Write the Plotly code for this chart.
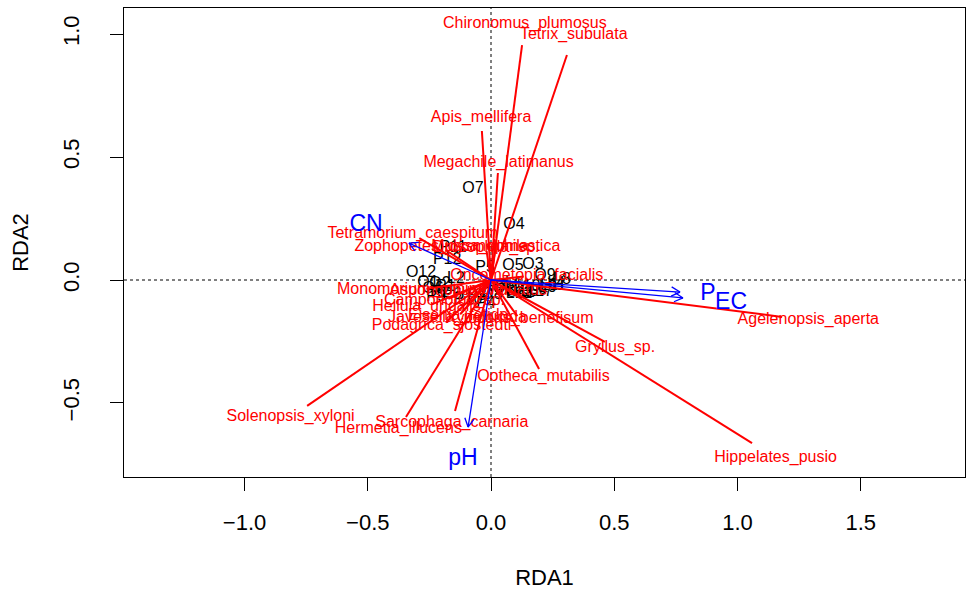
import numpy as np
import plotly.graph_objects as go

# Site scores (RDA1, RDA2)
site_names = ["O1", "O2", "O3", "O4", "O5", "O6", "O7", "O8", "O9", "O10", "O11", "O12",
              "P1", "P2", "P3", "P4", "P5", "P6", "P7", "P8", "P9", "P10", "P11", "P12",
              "L1", "L2", "L3", "L4", "L5", "L6", "L7", "L8", "L9", "L10", "L11", "L12"]
site_x = [-0.256, -0.207, 0.170, 0.093, 0.089, -0.235, -0.073, 0.004, 0.219, 0.069, 0.118, -0.284,
          -0.183, -0.207, -0.057, -0.020, -0.024, -0.158, 0.028, 0.057, -0.223, -0.093, -0.154, -0.178,
          0.093, -0.142, 0.126, 0.264, 0.158, 0.191, 0.215, 0.288, 0.231, 0.146, 0.252, 0.114]
site_y = [-0.012, -0.016, 0.061, 0.224, 0.057, -0.037, 0.370, -0.061, 0.016, -0.037, -0.053, 0.028,
          -0.028, -0.053, -0.065, -0.098, 0.049, -0.061, -0.028, -0.045, -0.069, -0.081, 0.130, 0.081,
          -0.016, 0.004, -0.041, -0.016, -0.049, -0.041, -0.049, 0.000, -0.033, -0.028, -0.024, -0.057]

# Species scores (arrow tips)
species_names = ["Chironomus_plumosus", "Tetrix_subulata", "Apis_mellifera", "Megachile_latimanus",
                 "Tetramorium_caespitum", "Zophopetes_dysmephila", "Drosophila_sp.", "Musca_domestica",
                 "Monomorium_minimum", "Aspongopus_viduatus", "Camponotus_sp.", "Hellula_undalis",
                 "Javesella_pellucida", "Eisenia_fetida", "Xylocoris_benefisum", "Podagrica_sjostedti",
                 "Oncometopia_facialis", "Agelenopsis_aperta", "Gryllus_sp.", "Hippelates_pusio",
                 "Ootheca_mutabilis", "Sarcophaga_carnaria", "Hermetia_illucens", "Solenopsis_xyloni"]
species_x = [0.126, 0.308, -0.037, 0.028,
             -0.291, -0.184, -0.018, 0.018,
             -0.262, -0.085, -0.173, -0.240,
             -0.125, -0.122, 0.107, -0.184,
             0.133, 1.181, 0.462, 1.059,
             0.195, -0.146, -0.345, -0.746]
species_y = [0.955, 0.915, 0.606, 0.435,
             0.170, 0.122, 0.118, 0.125,
             -0.036, -0.040, -0.077, -0.099,
             -0.140, -0.136, -0.147, -0.173,
             0.014, -0.150, -0.252, -0.663,
             -0.362, -0.533, -0.557, -0.512]
species_label_mult = 1.09

# Environmental biplot arrows
env_names = ["CN", "P", "EC", "pH"]
env_x = [-0.333, 0.767, 0.779, -0.093]
env_y = [0.150, -0.049, -0.073, -0.598]
env_label_x = [-0.507, 0.880, 0.974, -0.114]
env_label_y = [0.224, -0.057, -0.093, -0.728]

x_ticks = [-1.0, -0.5, 0.0, 0.5, 1.0, 1.5]
y_ticks = [-0.5, 0.0, 0.5, 1.0]

FONT = "Liberation Sans, Arial, sans-serif"
RED = "#FF0000"
BLUE = "#0000FF"

fig = go.Figure()

# site labels
fig.add_trace(go.Scatter(
    x=site_x, y=site_y, text=site_names, mode="text",
    textfont=dict(family=FONT, size=16, color="black"),
    hoverinfo="text", showlegend=False))

# species lines from origin
lx, ly = [], []
for sx, sy in zip(species_x, species_y):
    lx += [0, sx, None]
    ly += [0, sy, None]
fig.add_trace(go.Scatter(x=lx, y=ly, mode="lines",
                         line=dict(color=RED, width=2), hoverinfo="skip", showlegend=False))

# species labels
fig.add_trace(go.Scatter(
    x=[v * species_label_mult for v in species_x],
    y=[v * species_label_mult for v in species_y],
    text=species_names, mode="text",
    textfont=dict(family=FONT, size=16, color=RED),
    hoverinfo="text", showlegend=False))

# environmental arrows with open heads
ax_, ay_ = [], []
head_len = 0.04
head_ang = np.deg2rad(28)
for ex, ey in zip(env_x, env_y):
    ax_ += [0, ex, None]
    ay_ += [0, ey, None]
    ang = np.arctan2(ey, ex)
    for s in (1, -1):
        a = ang + np.pi + s * head_ang
        ax_ += [ex, ex + head_len * np.cos(a), None]
        ay_ += [ey, ey + head_len * np.sin(a), None]
fig.add_trace(go.Scatter(x=ax_, y=ay_, mode="lines",
                         line=dict(color=BLUE, width=1.3), hoverinfo="skip", showlegend=False))

fig.add_trace(go.Scatter(
    x=env_label_x, y=env_label_y, text=env_names, mode="text",
    textfont=dict(family=FONT, size=23, color=BLUE),
    hoverinfo="text", showlegend=False))

# dotted reference lines through the origin
fig.add_shape(type="line", xref="x", yref="paper", x0=0, x1=0, y0=0, y1=1,
              line=dict(color="black", width=1, dash="dot"), layer="below")
fig.add_shape(type="line", xref="paper", yref="y", x0=0, x1=1, y0=0, y1=0,
              line=dict(color="black", width=1, dash="dot"), layer="below")

axis_common = dict(
    showgrid=False, zeroline=False, showline=True, mirror=True,
    linecolor="black", linewidth=1.3, ticks="outside", ticklen=13,
    tickcolor="black", tickwidth=1.3,
    tickfont=dict(family=FONT, size=22, color="black"),
)

fig.update_layout(
    width=966, height=594,
    margin=dict(l=124, r=1, t=8, b=117),
    paper_bgcolor="white", plot_bgcolor="white",
    showlegend=False,
    xaxis=dict(range=[-1.489, 1.923], tickvals=x_ticks,
               ticktext=[f"{v:.1f}".replace("-", "\u2212") for v in x_ticks],
               ticklabelstandoff=12,
               title=dict(text="RDA1", font=dict(family=FONT, size=22, color="black"), standoff=36),
               **axis_common),
    yaxis=dict(range=[-0.801, 1.106], tickvals=y_ticks,
               ticktext=[f"{v:.1f}".replace("-", "\u2212") for v in y_ticks],
               tickangle=-90, ticklabelstandoff=22,
               title=dict(text="RDA2", font=dict(family=FONT, size=22, color="black"), standoff=24),
               **axis_common),
)

fig.write_html("out.html")
